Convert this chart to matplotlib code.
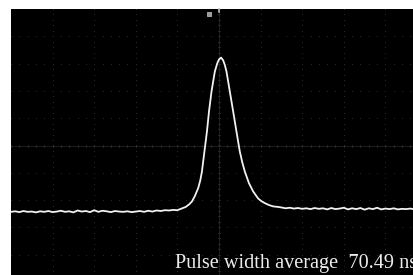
import matplotlib.pyplot as plt
import numpy as np

left_t = [-5.0, -4.9, -4.8, -4.7, -4.6, -4.5, -4.4, -4.3, -4.2, -4.1,
          -4.0, -3.9, -3.8, -3.7, -3.6, -3.5, -3.4, -3.3, -3.2, -3.1,
          -3.0, -2.9, -2.8, -2.7, -2.6, -2.5, -2.4, -2.3, -2.2, -2.1,
          -2.0, -1.9, -1.8, -1.7, -1.6, -1.5, -1.4, -1.3, -1.2, -1.1]
left_v = [-2.43, -2.41, -2.44, -2.40, -2.43, -2.42, -2.45, -2.41, -2.43, -2.40,
          -2.44, -2.42, -2.39, -2.43, -2.41, -2.45, -2.38, -2.42, -2.40, -2.44,
          -2.37, -2.43, -2.39, -2.41, -2.44, -2.40, -2.42, -2.43, -2.41, -2.44,
          -2.42, -2.40, -2.43, -2.39, -2.42, -2.38, -2.40, -2.37, -2.38, -2.36]

pulse_t = [-1.0, -0.9, -0.8, -0.72, -0.65, -0.58, -0.5, -0.45, -0.41, -0.35,
           -0.29, -0.24, -0.18, -0.10, -0.04, 0.0, 0.05, 0.10, 0.14, 0.18,
           0.26, 0.34, 0.42, 0.50, 0.56, 0.62, 0.72, 0.82, 0.94, 1.02,
           1.10, 1.20, 1.30, 1.42]
pulse_v = [-2.37, -2.31, -2.25, -2.16, -2.05, -1.85, -1.56, -1.28, -0.95, -0.22,
           0.51, 1.25, 1.98, 2.71, 3.02, 3.15, 3.22, 3.12, 2.95, 2.71,
           1.98, 1.25, 0.51, -0.22, -0.62, -0.95, -1.38, -1.68, -1.94, -2.04,
           -2.11, -2.18, -2.23, -2.25]

right_t = [1.5, 1.6, 1.7, 1.8, 1.9, 2.0, 2.1, 2.2, 2.3, 2.4,
           2.5, 2.6, 2.7, 2.8, 2.9, 3.0, 3.1, 3.2, 3.3, 3.4,
           3.5, 3.6, 3.7, 3.8, 3.9, 4.0, 4.1, 4.2, 4.3, 4.4,
           4.5, 4.6, 4.7, 4.8, 4.9, 5.0]
right_v = [-2.27, -2.30, -2.28, -2.31, -2.29, -2.32, -2.30, -2.33, -2.29, -2.32,
           -2.30, -2.34, -2.29, -2.33, -2.31, -2.28, -2.34, -2.30, -2.33, -2.29,
           -2.35, -2.30, -2.33, -2.28, -2.34, -2.31, -2.33, -2.30, -2.34, -2.32,
           -2.33, -2.31, -2.34, -2.32, -2.33, -2.32]

label = "Pulse width average  70.49 ns"

t = left_t + pulse_t + right_t
v = left_v + pulse_v + right_v

W, H = 414, 275
fig = plt.figure(figsize=(W / 100, H / 100), dpi=100, facecolor="white")
# screen is wider/taller than the crop, so the axes run off the right and bottom
ax = fig.add_axes([11 / W, (H - 282) / H, 416 / W, 273 / H])
ax.set_facecolor("black")
ax.set_xlim(-5, 5)
ax.set_ylim(-5, 5)
for s in ax.spines.values():
    s.set_visible(False)
ax.set_xticks([])
ax.set_yticks([])

# dotted graticule
minor = np.arange(-5, 5.01, 0.2)
for k in range(-4, 5):
    if k == 0:
        continue
    ax.scatter(minor, np.full_like(minor, k), s=0.5, color="#2c2c2c", lw=0)
    ax.scatter(np.full_like(minor, k), minor, s=0.5, color="#2c2c2c", lw=0)

# centre axes with small ticks
ax.axhline(0, color="#222222", lw=0.6)
ax.axvline(0, color="#222222", lw=0.6)
ax.scatter(minor, np.zeros_like(minor), s=4, marker="|", color="#444444", lw=0.8)
ax.scatter(np.zeros_like(minor), minor, s=4, marker="_", color="#444444", lw=0.8)

ax.plot(t, v, color="#f2f2f2", lw=1.3, solid_joinstyle="round")

# trigger markers at the top
ax.plot([0, 0], [4.9, 5.0], color="#bbbbbb", lw=1.2, clip_on=False)
ax.plot([-0.25], [4.82], marker="s", ms=3.5, color="#999999", mec="#cccccc", mew=0.5)

fig.text(175 / W, (H - 268) / H, label, color="#ececec",
         family="Liberation Serif", fontsize=14.6, va="baseline", ha="left")

fig.savefig("out.png", dpi=100, facecolor="white")
